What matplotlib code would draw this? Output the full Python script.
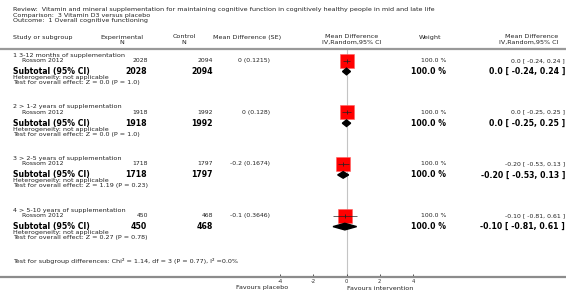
import matplotlib
matplotlib.use("Agg")
import matplotlib.pyplot as plt
from matplotlib.patches import Polygon

# ---------------- data ----------------
title_lines = [
    "Review:  Vitamin and mineral supplementation for maintaining cognitive function in cognitively healthy people in mid and late life",
    "Comparison:  3 Vitamin D3 versus placebo",
    "Outcome:  1 Overall cognitive functioning",
]
groups = [
    "1 3-12 months of supplementation",
    "2 > 1-2 years of supplementation",
    "3 > 2-5 years of supplementation",
    "4 > 5-10 years of supplementation",
]
study_names = ["Rossom 2012", "Rossom 2012", "Rossom 2012", "Rossom 2012"]
exp_n = [2028, 1918, 1718, 450]
ctl_n = [2094, 1992, 1797, 468]
md = [0, 0, -0.2, -0.1]
se = [0.1215, 0.128, 0.1674, 0.3646]
ci_low = [-0.24, -0.25, -0.53, -0.81]
ci_high = [0.24, 0.25, 0.13, 0.61]
md_label = ["0.0", "0.0", "-0.20", "-0.10"]
weights = [100.0, 100.0, 100.0, 100.0]
z_vals = ["0.0", "0.0", "1.19", "0.27"]
p_vals = ["1.0", "1.0", "0.23", "0.78"]
subgroup_test = "Test for subgroup differences: Chi\u00b2 = 1.14, df = 3 (P = 0.77), I\u00b2 =0.0%"
xticks = [-4, -2, 0, 2, 4]
favours_left = "Favours placebo"
favours_right = "Favours intervention"

# ---------------- layout ----------------
W, H = 566, 301
X0, SCALE = 346.5, 16.625   # pixel of MD=0, pixels per unit
AXIS_Y = 277


def px(x):
    return (x - X0) / SCALE


fig = plt.figure(figsize=(W / 100, H / 100), dpi=100)
ax = fig.add_axes([0, (H - AXIS_Y) / H, 1, AXIS_Y / H])
ax.set_xlim(px(0), px(W))
ax.set_ylim(AXIS_Y, 0)
for s in ["top", "left", "right"]:
    ax.spines[s].set_visible(False)
ax.spines["bottom"].set_color("#8c8c8c")
ax.spines["bottom"].set_linewidth(1.6)
ax.set_yticks([])
ax.set_xticks(xticks)
ax.set_xticklabels([str(t) for t in xticks])
ax.tick_params(axis="x", direction="in", length=2, width=0.6, labelsize=3.8,
               pad=1.5, colors="#333333")

FS = 4.55
FSS = 4.4
FSB = 5.6
TC = "#222222"

for i, t in enumerate(title_lines):
    ax.text(px(13), 9.5 + i * 5.6, t, fontsize=FS, va="center", ha="left", color=TC)

# column headers
hy1, hy2 = 37, 42
ax.text(px(13), hy1, "Study or subgroup", fontsize=FS, va="center", color=TC)
ax.text(px(122), hy1, "Experimental", fontsize=FS, va="center", ha="center", color=TC)
ax.text(px(122), hy2, "N", fontsize=FS, va="center", ha="center", color=TC)
ax.text(px(184), hy1, "Control", fontsize=FS, va="center", ha="center", color=TC)
ax.text(px(184), hy2, "N", fontsize=FS, va="center", ha="center", color=TC)
ax.text(px(247), hy1, "Mean Difference (SE)", fontsize=FS, va="center", ha="center", color=TC)
ax.text(px(352), hy1, "Mean Difference", fontsize=FS, va="center", ha="center", color=TC)
ax.text(px(352), hy2, "IV,Random,95% CI", fontsize=FS, va="center", ha="center", color=TC)
ax.text(px(430), hy1, "Weight", fontsize=FS, va="center", ha="center", color=TC)
ax.text(px(558), hy1, "Mean Difference", fontsize=FS, va="center", ha="right", color=TC)
ax.text(px(558), hy2, "IV,Random,95% CI", fontsize=FS, va="center", ha="right", color=TC)

ax.axhline(48.5, color="#999999", lw=1.6)
ax.vlines(0, 48.5, AXIS_Y, color="#c4c4c4", lw=0.8, zorder=1)

G0, GSTEP = 55, 51.7
sq_px = 14
for i in range(len(groups)):
    g = G0 + i * GSTEP
    ys, yt = g + 5.5, g + 16.5
    ax.text(px(13), g, groups[i], fontsize=FS, va="center", color=TC)
    ax.text(px(22), ys, study_names[i], fontsize=FSS, va="center", color=TC)
    ax.text(px(148), ys, f"{exp_n[i]}", fontsize=FSS, va="center", ha="right", color=TC)
    ax.text(px(213), ys, f"{ctl_n[i]}", fontsize=FSS, va="center", ha="right", color=TC)
    ax.text(px(270), ys, f"{md[i]:g} ({se[i]:g})", fontsize=FSS, va="center", ha="right", color=TC)
    ax.text(px(446), ys, f"{weights[i]:.1f} %", fontsize=FSS, va="center", ha="right", color=TC)
    ax.text(px(565), ys, f"{md_label[i]} [ {ci_low[i]:.2f}, {ci_high[i]:.2f} ]",
            fontsize=FSS, va="center", ha="right", color=TC)
    # study marker
    ax.plot([md[i]], [ys], marker="s", ms=sq_px * 0.72, color="#ff0000",
            mec="#ff6060", mew=0.4, zorder=3, ls="none")
    ax.hlines(ys, ci_low[i], ci_high[i], color="#222222", lw=0.5, zorder=4)
    ax.plot([md[i]], [ys], marker="|", ms=3.5, mew=0.6, color="#222222", zorder=5)

    # subtotal
    ax.text(px(13), yt, "Subtotal (95% CI)", fontsize=FSB, fontweight="bold", va="center", color="black")
    ax.text(px(147), yt, f"{exp_n[i]}", fontsize=FSB, fontweight="bold", va="center", ha="right")
    ax.text(px(213), yt, f"{ctl_n[i]}", fontsize=FSB, fontweight="bold", va="center", ha="right")
    ax.text(px(446), yt, f"{weights[i]:.1f} %", fontsize=FSB, fontweight="bold", va="center", ha="right")
    ax.text(px(565), yt, f"{md_label[i]} [ {ci_low[i]:.2f}, {ci_high[i]:.2f} ]",
            fontsize=FSB, fontweight="bold", va="center", ha="right")
    dh = 3.3
    ax.add_patch(Polygon([(ci_low[i], yt), (md[i], yt - dh), (ci_high[i], yt), (md[i], yt + dh)],
                         closed=True, color="black", zorder=3))
    ax.text(px(13), g + 22.5, "Heterogeneity: not applicable", fontsize=FS, va="center", color=TC)
    ax.text(px(13), g + 27.5, f"Test for overall effect: Z = {z_vals[i]} (P = {p_vals[i]})",
            fontsize=FS, va="center", color=TC)

ax.text(px(13), 261, subgroup_test, fontsize=FS, va="center", color=TC)

fig.text(288 / W, 1 - 288 / H, favours_left, fontsize=FS, ha="right", va="center", color=TC)
fig.text(347 / W, 1 - 288 / H, favours_right, fontsize=FS, ha="left", va="center", color=TC)

fig.savefig("out.png", dpi=100)
